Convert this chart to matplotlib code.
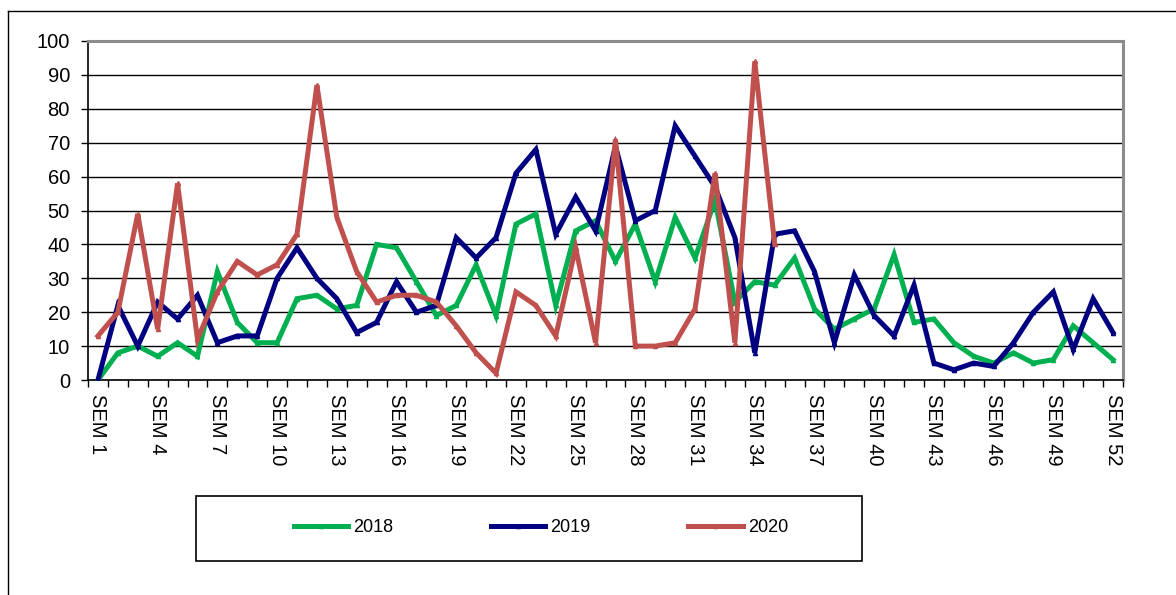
import numpy as np
import matplotlib.pyplot as plt
from matplotlib.lines import Line2D

plt.rcParams['font.family'] = ['Liberation Sans', 'DejaVu Sans']

# weekly values
weeks = ['SEM %d' % i for i in range(1, 53)]
y2018 = [0, 8, 10, 7, 11, 7, 32, 17, 11, 11, 24, 25, 21, 22, 40, 39, 29, 19,
         22, 34, 19, 46, 49, 22, 44, 47, 35, 46, 29, 48, 36, 53, 23, 29, 28,
         36, 21, 15, 18, 21, 37, 17, 18, 11, 7, 5, 8, 5, 6, 16, 11, 6]
y2019 = [0, 22, 10, 23, 18, 25, 11, 13, 13, 30, 39, 30, 24, 14, 17, 29, 20, 22,
         42, 36, 42, 61, 68, 43, 54, 44, 69, 47, 50, 75, 66, 57, 42, 8, 43,
         44, 32, 11, 31, 19, 13, 28, 5, 3, 5, 4, 11, 20, 26, 9, 24, 14]
y2020 = [13, 20, 49, 15, 58, 12, 26, 35, 31, 34, 43, 87, 48, 32, 23, 25, 25, 23,
         16, 8, 2, 26, 22, 13, 39, 11, 71, 10, 10, 11, 21, 61, 11, 94, 40]
series = [('2018', y2018, '#00B050'), ('2019', y2019, '#000080'), ('2020', y2020, '#C0504D')]

W, H = 1176, 595
fig = plt.figure(figsize=(W / 100, H / 100), dpi=100)
ax = fig.add_axes([88 / W, 1 - 380 / H, (1123 - 88) / W, (380 - 41) / H])

x = np.arange(len(weeks))
for name, vals, col in series:
    ax.plot(x[:len(vals)], vals, color=col, lw=3.6, marker='^', ms=3,
            mec=col, mfc=col, label=name, zorder=3, solid_joinstyle='miter')

ax.set_xlim(-0.5, len(weeks) - 0.5)
ax.set_ylim(0, 100)
ax.set_yticks(np.arange(0, 101, 10))
ax.yaxis.grid(True, color='black', lw=1)
ax.set_axisbelow(True)
ax.tick_params(axis='y', labelsize=14.5, length=5, width=1, pad=8, direction='out')

ax.set_xticks(x[::3])
ax.set_xticklabels(weeks[::3], rotation=-90, fontsize=14.5, va='top', ha='center')
ax.set_xticks(np.arange(-0.5, len(weeks)), minor=True)
ax.tick_params(axis='x', which='major', length=0, pad=10)
ax.tick_params(axis='x', which='minor', length=5, width=1, direction='out')

for side in ['left', 'bottom']:
    ax.spines[side].set_color('black')
    ax.spines[side].set_linewidth(1.2)
for side in ['top', 'right']:
    ax.spines[side].set_color('#8c8c8c')
    ax.spines[side].set_linewidth(2.2)

# legend in its own box below the chart
fig.patches.append(plt.Rectangle((196 / W, 1 - 561 / H), (862 - 196) / W, (561 - 496) / H,
                                 transform=fig.transFigure, fill=False, ec='black', lw=1.2))
fig.legend(loc='center', bbox_to_anchor=(541 / W, 1 - 528 / H), ncol=3, frameon=False,
           fontsize=13, handlelength=3.0, handletextpad=0.3, columnspacing=5.4)

# outer chart frame
fig.add_artist(Line2D([8 / W, 8 / W], [1 - 11 / H, 0], transform=fig.transFigure, color='black', lw=1))
fig.add_artist(Line2D([8 / W, 1], [1 - 11 / H, 1 - 11 / H], transform=fig.transFigure, color='black', lw=1))

fig.savefig('out.png', dpi=100)
